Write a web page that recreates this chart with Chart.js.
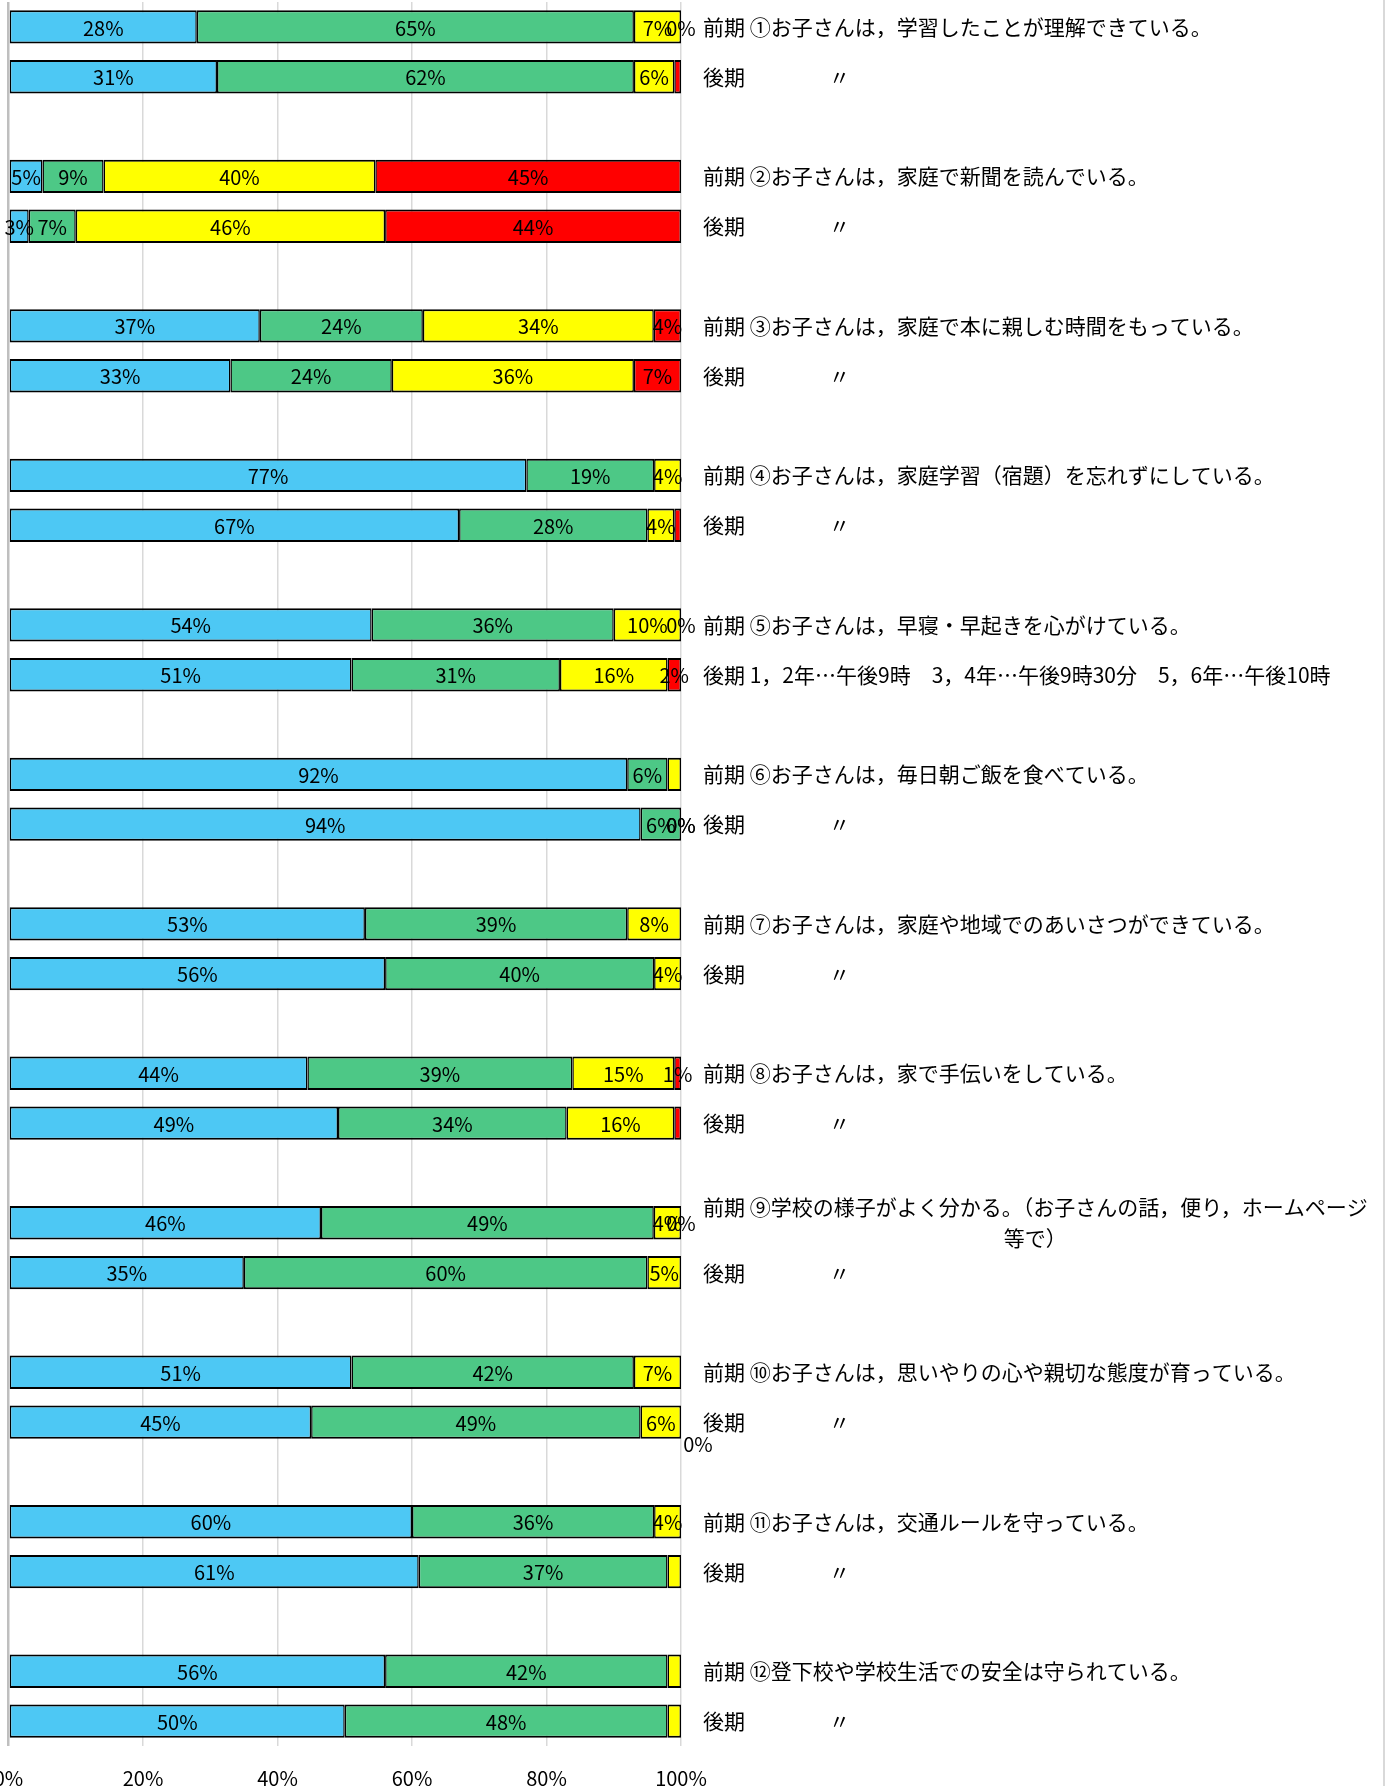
<!DOCTYPE html>
<html lang="ja">
<head>
<meta charset="utf-8">
<title>保護者アンケート 前期・後期</title>
<script src="https://cdn.jsdelivr.net/npm/chart.js@4.4.1/dist/chart.umd.min.js"></script>
<style>
  html, body { margin: 0; padding: 0; background: #fff; overflow: hidden; }
  #wrap { position: relative; width: 1394px; height: 1786px; overflow: hidden; }
</style>
</head>
<body>
<div id="wrap"><canvas id="surveyChart" width="1394" height="1821"></canvas></div>
<script>
// 設問（右側のラベル）
const questions = [
    '①お子さんは，学習したことが理解できている。',
    '②お子さんは，家庭で新聞を読んでいる。',
    '③お子さんは，家庭で本に親しむ時間をもっている。',
    '④お子さんは，家庭学習（宿題）を忘れずにしている。',
    '⑤お子さんは，早寝・早起きを心がけている。',
    '⑥お子さんは，毎日朝ご飯を食べている。',
    '⑦お子さんは，家庭や地域でのあいさつができている。',
    '⑧お子さんは，家で手伝いをしている。',
    '⑨学校の様子がよく分かる。（お子さんの話，便り，ホームページ\n等で）',
    '⑩お子さんは，思いやりの心や親切な態度が育っている。',
    '⑪お子さんは，交通ルールを守っている。',
    '⑫登下校や学校生活での安全は守られている。'
];
const ditto = '後期　　　　〃';
const koukiTexts = [
    ditto, ditto, ditto, ditto,
    '後期 1，2年…午後9時　3，4年…午後9時30分　5，6年…午後10時',
    ditto, ditto, ditto, ditto, ditto, ditto, ditto
];

const seriesNames = ['よくあてはまる', 'だいたいあてはまる', 'あまりあてはまらない', 'あてはまらない'];

// 前期（％）
const zenki1 = [28, 5, 37, 77, 54, 92, 53, 44, 46, 51, 60, 56];
const zenki2 = [65, 9, 24, 19, 36, 6, 39, 39, 49, 42, 36, 42];
const zenki3 = [7, 40, 34, 4, 10, 2, 8, 15, 4, 7, 4, 2];
const zenki4 = [0, 45, 4, 0, 0, 0, 0, 1, 0, 0, 0, 0];
// 後期（％）
const kouki1 = [31, 3, 33, 67, 51, 94, 56, 49, 35, 45, 61, 50];
const kouki2 = [62, 7, 24, 28, 31, 6, 40, 34, 60, 49, 37, 48];
const kouki3 = [6, 46, 36, 4, 16, 0, 4, 16, 5, 6, 2, 2];
const kouki4 = [1, 44, 7, 1, 2, 0, 0, 1, 0, 0, 0, 0];

const xTickLabels = ['0%', '20%', '40%', '60%', '80%', '100%'];

// 小さい値でもラベルを表示するもの [設問, 0=前期/1=後期, 系列]
const smallLabels = [[0, 0, 3], [4, 0, 3], [4, 1, 3], [5, 1, 2], [5, 1, 3], [7, 0, 3], [8, 0, 3], [9, 1, 3]];

const colors = ['#4dc8f4', '#4dc886', '#ffff00', '#ff0000'];
const zenki = [zenki1, zenki2, zenki3, zenki4];
const kouki = [kouki1, kouki2, kouki3, kouki4];

// 1設問 = 前期, 後期, 空き の3行（最後の空きは無し）
const slotCount = questions.length * 3 - 1;
const slots = [];
for (let k = 0; k < slotCount; k++) slots.push(String(k));

function rowValues(g, p) {
    return (p === 0 ? zenki : kouki).map(s => s[g]);
}

const datasets = seriesNames.map((name, si) => {
    const shown = [];
    const data = [];
    for (let k = 0; k < slotCount; k++) {
        const g = Math.floor(k / 3), p = k % 3;
        if (p === 2) { shown.push(null); data.push(null); continue; }
        const row = rowValues(g, p);
        const total = row.reduce((a, b) => a + b, 0);
        shown.push(row[si]);
        data.push(row[si] / total * 100); // 100%積み上げ
    }
    return {
        label: name,
        data: data,
        shown: shown,
        backgroundColor: colors[si],
        borderColor: '#000',
        borderWidth: { top: 2, bottom: 2, left: 1.5, right: 1.5 },
        borderSkipped: false,
        barPercentage: 0.67,
        categoryPercentage: 1
    };
});

const barLabels = {
    id: 'barLabels',
    afterDatasetsDraw(chart) {
        const ctx = chart.ctx;
        ctx.save();
        ctx.font = '20px "Noto Sans CJK JP"';
        ctx.fillStyle = '#000';
        ctx.textAlign = 'center';
        ctx.textBaseline = 'middle';
        chart.data.datasets.forEach((ds, si) => {
            chart.getDatasetMeta(si).data.forEach((bar, k) => {
                const v = ds.shown[k];
                if (v === null || v === undefined) return;
                const g = Math.floor(k / 3), p = k % 3;
                const forced = smallLabels.some(s => s[0] === g && s[1] === p && s[2] === si);
                if (v < 3 && !forced) return;
                let x = (bar.x + bar.base) / 2;
                let y = bar.y + 1;
                if (g === 9 && p === 1 && si === 3) { x += 17; y += 21; } // 手で動かされたラベル
                ctx.fillText(v + '%', x, y);
            });
        });
        ctx.restore();
    }
};

const rowLabels = {
    id: 'rowLabels',
    afterDraw(chart) {
        const ctx = chart.ctx;
        const yScale = chart.scales.y;
        const x0 = chart.chartArea.right + 22;
        ctx.save();
        ctx.font = '21px "Noto Sans CJK JP"';
        ctx.fillStyle = '#000';
        ctx.textBaseline = 'middle';
        for (let k = 0; k < slotCount; k++) {
            const g = Math.floor(k / 3), p = k % 3;
            if (p === 2) continue;
            const text = p === 0 ? '前期 ' + questions[g] : koukiTexts[g];
            const lines = text.split('\n');
            const yc = yScale.getPixelForValue(k);
            const lh = 31;
            if (lines.length === 1) {
                ctx.textAlign = 'left';
                ctx.fillText(text, x0, yc);
            } else {
                const w = Math.max(...lines.map(l => ctx.measureText(l).width));
                ctx.textAlign = 'center';
                lines.forEach((l, i) => {
                    ctx.fillText(l, x0 + w / 2, yc + (i - (lines.length - 1) / 2) * lh);
                });
            }
        }
        // グラフ枠の右端
        ctx.strokeStyle = '#d9d9d9';
        ctx.lineWidth = 2;
        ctx.beginPath();
        ctx.moveTo(1384, 0);
        ctx.lineTo(1384, chart.height);
        ctx.stroke();
        ctx.restore();
    }
};

const canvas = document.getElementById('surveyChart');
const surveyChart = new Chart(canvas.getContext('2d'), {
    type: 'bar',
    data: { labels: slots, datasets: datasets },
    options: {
        indexAxis: 'y',
        responsive: false,
        animation: false,
        layout: { padding: { left: 8.5, right: 713, top: 2, bottom: 11 } },
        scales: {
            x: {
                type: 'linear',
                stacked: true,
                min: 0,
                max: 100,
                position: 'bottom',
                border: { display: false },
                grid: {
                    drawTicks: false,
                    color: c => (c.tick && c.tick.value === 0) ? '#bfbfbf' : '#d9d9d9',
                    lineWidth: c => (c.tick && c.tick.value === 0) ? 2.5 : 1.5
                },
                ticks: {
                    stepSize: 20,
                    padding: 20,
                    color: '#000',
                    font: { family: '"Noto Sans CJK JP"', size: 20 },
                    callback: (v, i) => xTickLabels[i]
                },
                afterFit: s => { s.paddingLeft = 0; s.paddingRight = 0; }
            },
            y: {
                type: 'category',
                stacked: true,
                display: false
            }
        },
        plugins: {
            legend: { display: false },
            tooltip: { enabled: false }
        }
    },
    plugins: [barLabels, rowLabels]
});
</script>
</body>
</html>
